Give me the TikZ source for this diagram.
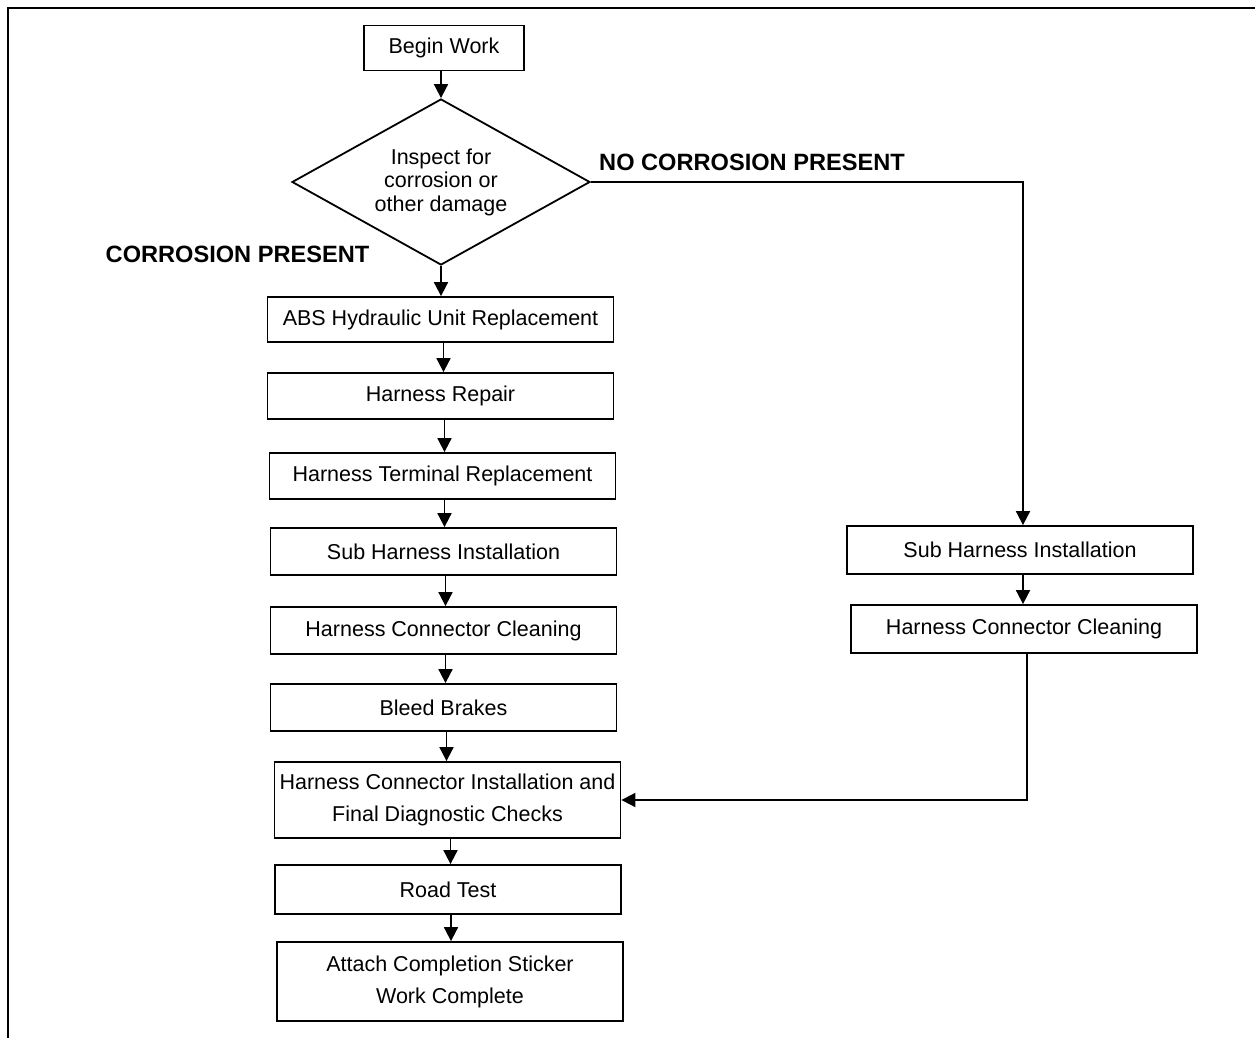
\documentclass[tikz,border=0pt]{standalone}
\usepackage{fontspec}
\setmainfont{Liberation Sans}
\usetikzlibrary{shapes.geometric,arrows.meta}
\begin{document}
\begin{tikzpicture}[x=1pt,y=-1pt,
  every path/.style={line width=1.8pt},
  box/.style={draw,rectangle,line width=1.8pt,minimum width=346pt,minimum height=46pt,inner sep=0pt,align=center,font=\fontsize{21.5}{32}\selectfont},
  dec/.style={draw,diamond,line width=1.8pt,minimum width=298pt,minimum height=166pt,aspect=1.795,inner sep=0pt,align=center,font=\fontsize{21.5}{23.5}\selectfont},
  lbl/.style={font=\bfseries\fontsize{23.6}{26}\selectfont,inner sep=0pt},
  arr/.style={-{Triangle[width=14pt,length=14pt]},line width=1.8pt}]
\useasboundingbox (0,0) rectangle (1255,1038);
\draw[line width=2.6pt] (1255,8) -- (8,8) -- (8,1038);

\node[box,minimum width=160pt,minimum height=45pt] (bw) at (444,48) {Begin Work};
\node[dec] (d) at (441,182) {Inspect for\\corrosion or\\other damage};
\node[box,minimum height=45pt] (abs) at (440.5,319.5) {ABS Hydraulic Unit Replacement};
\node[box] (hr) at (440.5,396) {Harness Repair};
\node[box] (htr) at (442.5,476) {Harness Terminal Replacement};
\node[box,minimum height=47pt] (shl) at (443.5,551.5) {Sub Harness Installation};
\node[box,minimum height=47pt] (hcl) at (443.5,630.5) {Harness Connector Cleaning};
\node[box,minimum height=47pt] (bb) at (443.5,707.5) {Bleed Brakes};
\node[box,minimum height=76pt] (hci) at (447.5,800) {Harness Connector Installation and\\Final Diagnostic Checks};
\node[box,minimum height=49pt] (rt) at (448,889.5) {Road Test};
\node[box,minimum height=79pt] (acs) at (450,981.5) {Attach Completion Sticker\\Work Complete};
\node[box,minimum height=48pt] (shr) at (1020,550) {Sub Harness Installation};
\node[box,minimum height=48pt] (hcr) at (1024,629) {Harness Connector Cleaning};

\node[lbl] (cp) at (237.5,254) {CORROSION PRESENT};
\node[lbl] (ncp) at (752,162) {NO CORROSION PRESENT};

\draw[arr] (bw.south -| d.north) -- (d.north);
\draw[arr] (d.south) -- (d.south |- abs.north);
\draw[arr] (abs.south) ++(3,0) coordinate (a1) -- (a1 |- hr.north);
\draw[arr] (hr.south) ++(4,0) coordinate (a2) -- (a2 |- htr.north);
\draw[arr] (htr.south) ++(2,0) coordinate (a3) -- (a3 |- shl.north);
\draw[arr] (shl.south) ++(2,0) coordinate (a4) -- (a4 |- hcl.north);
\draw[arr] (hcl.south) ++(2,0) coordinate (a5) -- (a5 |- bb.north);
\draw[arr] (bb.south) ++(3,0) coordinate (a6) -- (a6 |- hci.north);
\draw[arr] (hci.south) ++(3,0) coordinate (a7) -- (a7 |- rt.north);
\draw[arr] (rt.south) ++(3,0) coordinate (a8) -- (a8 |- acs.north);

\coordinate (c1) at (1023,182);
\draw[arr] (d.east) -- (c1) -- (c1 |- shr.north);
\draw[arr] (shr.south) ++(3,0) coordinate (a9) -- (a9 |- hcr.north);
\coordinate (c2) at (1027,800);
\draw[arr] (hcr.south -| c2) -- (c2) -- (hci.east);
\end{tikzpicture}
\end{document}
